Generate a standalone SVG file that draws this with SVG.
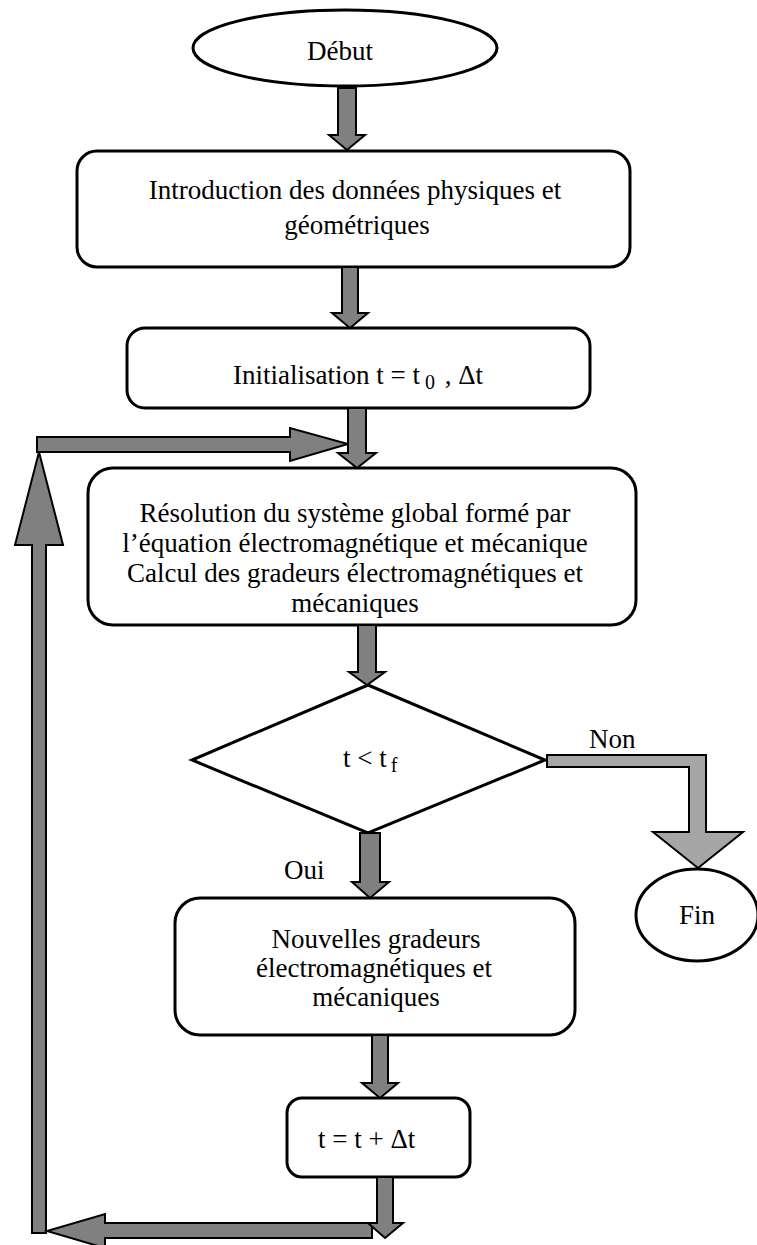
<svg xmlns="http://www.w3.org/2000/svg" width="757" height="1245" viewBox="0 0 757 1245">
  <style>
    .node { fill: #ffffff; stroke: #000000; stroke-width: 3; }
    .arrow { fill: #808080; stroke: #000000; stroke-width: 2; stroke-linejoin: miter; }
    .arrow-light { fill: #a6a6a6; stroke: #000000; stroke-width: 2; }
    text { font-family: "Liberation Serif", "Times New Roman", serif; font-size: 27px; fill: #000000; }
    .c { text-anchor: middle; }
    .sub { font-size: 20px; }
  </style>
  <rect width="757" height="1245" fill="#ffffff"/>

  <!-- nodes -->
  <g id="debut">
    <ellipse class="node" cx="345" cy="48" rx="152" ry="38"/>
    <text class="c" x="340" y="60">Début</text>
  </g>

  <g id="introduction">
    <rect class="node" x="77" y="151" width="553" height="116" rx="20" ry="20"/>
    <text class="c" x="355" y="199">Introduction des données physiques et</text>
    <text class="c" x="357" y="234">géométriques</text>
  </g>

  <g id="initialisation">
    <rect class="node" x="127" y="328" width="463" height="80" rx="18" ry="18"/>
    <text x="233" y="384">Initialisation t = t<tspan class="sub" dx="5" dy="5">0</tspan><tspan dx="3" dy="-5"> , Δt</tspan></text>
  </g>

  <g id="resolution">
    <rect class="node" x="88" y="468" width="548" height="157" rx="25" ry="25"/>
    <text class="c" x="355" y="522">Résolution du système global formé par</text>
    <text class="c" x="355" y="552">l’équation électromagnétique et mécanique</text>
    <text class="c" x="355" y="582">Calcul des gradeurs électromagnétiques et</text>
    <text class="c" x="355" y="612">mécaniques</text>
  </g>

  <g id="test">
    <polygon class="node" points="368,685 545,760 368,833 192,760"/>
    <text x="343" y="767">t &lt; t<tspan class="sub" dx="4" dy="5">f</tspan></text>
  </g>

  <g id="fin">
    <ellipse class="node" cx="697" cy="915" rx="61" ry="46"/>
    <text class="c" x="697" y="924">Fin</text>
  </g>

  <g id="nouvelles">
    <rect class="node" x="175" y="898" width="400" height="137" rx="25" ry="25"/>
    <text class="c" x="376" y="948">Nouvelles gradeurs</text>
    <text class="c" x="374" y="977">électromagnétiques et</text>
    <text class="c" x="376" y="1006">mécaniques</text>
  </g>

  <g id="increment">
    <rect class="node" x="287" y="1098" width="183" height="79" rx="15" ry="15"/>
    <text x="318" y="1148">t = t + Δt</text>
  </g>

  <!-- connectors -->
  <g id="connectors">
    <polygon class="arrow" points="338,88 356,88 356,135 365,135 347,150 329,135 338,135"/>
    <polygon class="arrow" points="342,267 358,267 358,313 368,313 350,328 332,313 342,313"/>
    <polygon class="arrow" points="37,437 290,437 290,428 348,444 290,461 290,452 37,452"/>
    <polygon class="arrow" points="348,408 366,408 366,453 376,453 357,468 338,453 348,453"/>
    <polygon class="arrow" points="32,1233 32,545 15,545 39,452 63,545 46,545 46,1233"/>
    <polygon class="arrow" points="358,625 376,625 376,672 385,672 367,685 349,672 358,672"/>
    <polygon class="arrow-light" points="547,755 706,755 706,832 743,832 698,868 653,832 689,832 689,767 547,767"/>
    <text x="589" y="748">Non</text>
    <polygon class="arrow" points="360,833 380,833 380,882 389,882 370,898 352,882 360,882"/>
    <text x="284" y="879">Oui</text>
    <polygon class="arrow" points="372,1035 388,1035 388,1083 398,1083 380,1098 362,1083 372,1083"/>
    <polygon class="arrow" points="372,1223 105,1223 105,1214 47,1231 105,1248 105,1238 372,1238"/>
    <polygon class="arrow" points="377,1177 393,1177 393,1223 403,1223 385,1238 368,1223 377,1223"/>
  </g>
</svg>
